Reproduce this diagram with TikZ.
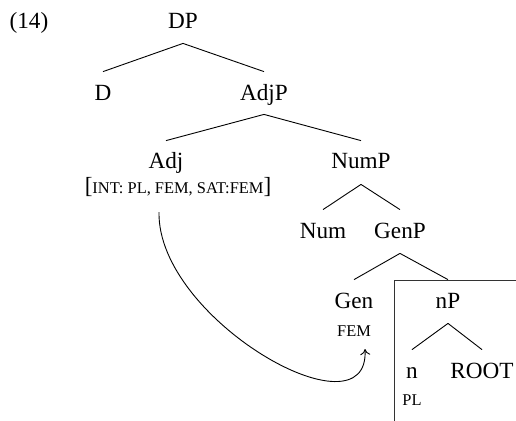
\documentclass[tikz,border=0pt]{standalone}
\usepackage{fontspec}
\setmainfont{Liberation Serif}
\usetikzlibrary{arrows.meta}
\newcommand{\fsc}[1]{{\fontsize{8.2pt}{9pt}\selectfont #1}}
\begin{document}
\begin{tikzpicture}[x=0.5pt,y=-0.5pt,
  lbl/.style={anchor=base,inner sep=0pt,text height=8pt,text depth=2.5pt,font=\fontsize{11.6pt}{13pt}\selectfont},
  edge/.style={line width=0.45pt,black},
  boxline/.style={line width=0.5pt,black!80}]
\useasboundingbox (0,0) rectangle (516,420);
% nodes
\node[lbl] (ex) at (29,28) {(14)};
\node[lbl] (dp) at (183,28) {DP};
\node[lbl] (d) at (103,100) {D};
\node[lbl] (adjp) at (264,100) {AdjP};
\node[lbl] (adj) at (166,168) {Adj};
\node[lbl] (feat) at (178,193) {[\fsc{INT: PL, FEM, SAT:FEM}]};
\node[lbl] (nump) at (361,168) {NumP};
\node[lbl] (num) at (323,238) {Num};
\node[lbl] (genp) at (400,238) {GenP};
\node[lbl] (gen) at (354,308) {Gen};
\node[lbl] (fem) at (354,336) {\fsc{FEM}};
\node[lbl] (np) at (448,308) {nP};
\node[lbl] (n) at (412,378) {n};
\node[lbl] (root) at (482,378) {ROOT};
\node[lbl] (pl) at (412,405) {\fsc{PL}};
% tree edges
\draw[edge] ([yshift=-5pt]dp.south) -- ([yshift=6pt]d.north);
\draw[edge] ([yshift=-5pt]dp.south) -- ([yshift=6pt]adjp.north);
\draw[edge] ([yshift=-4.5pt]adjp.south) -- ([yshift=5.5pt]adj.north);
\draw[edge] ([yshift=-4.5pt]adjp.south) -- ([yshift=5.5pt]nump.north);
\draw[edge] ([yshift=-5.5pt]nump.south) -- ([yshift=6pt]num.north);
\draw[edge] ([yshift=-5.5pt]nump.south) -- ([yshift=6pt]genp.north);
\draw[edge] ([yshift=-5pt]genp.south) -- ([yshift=6pt]gen.north);
\draw[edge] ([yshift=-5pt]genp.south) -- ([yshift=6pt]np.north);
\draw[edge] ([yshift=-5pt]np.south) -- ([yshift=6pt]n.north);
\draw[edge] ([yshift=-5pt]np.south) -- ([yshift=6pt]root.north);
% box
\coordinate (bl) at (395,421);
\coordinate (tl) at (395,280);
\coordinate (tr) at (517,280);
\draw[boxline] (bl) -- (tl) -- (tr);
% agreement arrow
\coordinate (cs) at (159,212);
\coordinate (ce) at (365,349);
\draw[edge,-{To[length=3pt,width=5pt]}] (cs) .. controls (157,320) and (370,440) .. (ce);
\end{tikzpicture}
\end{document}
